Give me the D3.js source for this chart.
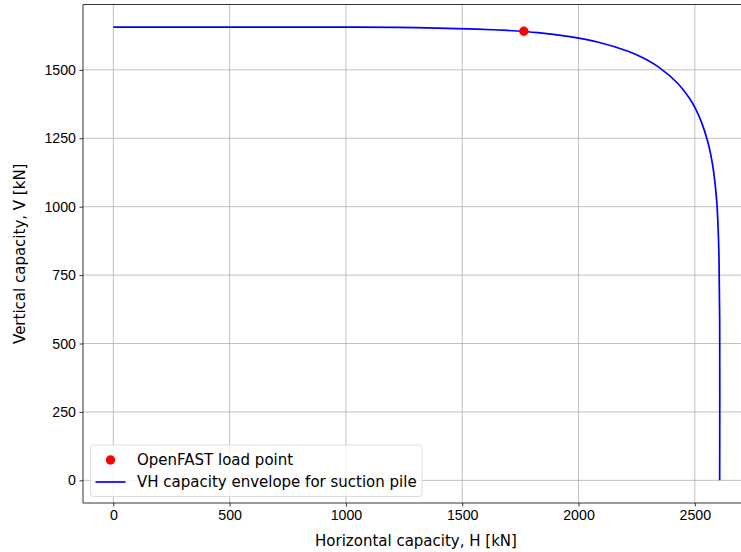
<!DOCTYPE html>
<html>
<head>
<meta charset="utf-8">
<script src="https://cdn.jsdelivr.net/npm/d3@7"></script>
<style>
  body { margin: 0; background: #fff; }
  svg { display: block; font-family: "DejaVu Sans", sans-serif; }
  .grid line { stroke: #b0b0b0; stroke-width: 0.8; }
  .axis text { font-size: 14.2px; fill: #000; }
  .axis line, .axis path { stroke: #000; stroke-width: 0.8; }
</style>
</head>
<body>
<svg id="chart"></svg>
<script>
// envelope: horizontal capacity H [kN] and vertical capacity V [kN]
var envH = [0, 782, 1043, 1303, 1563, 1694, 1825, 1955, 2086, 2216, 2281, 2346, 2425, 2477, 2503, 2529, 2555, 2568, 2581, 2594, 2600, 2604, 2607, 2607];
var envV = [1656, 1656, 1656, 1654, 1649, 1644, 1636, 1622, 1601, 1567, 1542, 1509, 1452, 1396, 1358, 1308, 1240, 1193, 1128, 1024, 928, 815, 587, 0];
// OpenFAST load point
var loadH = [1765];
var loadV = [1641];
var xTicks = [0, 500, 1000, 1500, 2000, 2500];
var yTicks = [0, 250, 500, 750, 1000, 1250, 1500];
var legendLabels = ['OpenFAST load point', 'VH capacity envelope for suction pile'];

(function () {
    var width = 741, height = 552;
    var left = 83, top = 4.5, right = 750, bottom = 503;

    var svg = d3.select('#chart').attr('width', width).attr('height', height);

    // matplotlib style 5% margins
    var hMax = d3.max(envH.concat(loadH)), hMin = d3.min(envH.concat(loadH));
    var vMax = d3.max(envV.concat(loadV)), vMin = d3.min(envV.concat(loadV));
    var hPad = (hMax - hMin) * 0.05, vPad = (vMax - vMin) * 0.05;

    var x = d3.scaleLinear().domain([hMin - hPad, hMax + hPad]).range([left, right]);
    var y = d3.scaleLinear().domain([vMin - vPad, vMax + vPad]).range([bottom, top]);

    var plot = svg.append('g');

    // grid
    var grid = plot.append('g').attr('class', 'grid');
    grid.selectAll('.gx').data(xTicks).enter().append('line')
        .attr('x1', d => x(d)).attr('x2', d => x(d)).attr('y1', top).attr('y2', bottom);
    grid.selectAll('.gy').data(yTicks).enter().append('line')
        .attr('x1', left).attr('x2', right).attr('y1', d => y(d)).attr('y2', d => y(d));

    // envelope
    var pts = envH.map((h, i) => [h, envV[i]]);
    var line = d3.line().x(d => x(d[0])).y(d => y(d[1])).curve(d3.curveCatmullRom.alpha(0.5));
    plot.append('path').datum(pts)
        .attr('d', line)
        .attr('fill', 'none').attr('stroke', '#0000ff').attr('stroke-width', 1.7);

    // load point
    plot.selectAll('.pt').data(loadH).enter().append('circle')
        .attr('cx', d => x(d)).attr('cy', (d, i) => y(loadV[i])).attr('r', 4.7)
        .attr('fill', '#ff0000');

    // axes
    var xAxis = svg.append('g').attr('class', 'axis')
        .attr('transform', 'translate(0,' + bottom + ')')
        .call(d3.axisBottom(x).tickValues(xTicks).tickSize(3.5).tickPadding(3.5).tickFormat(d3.format('d')));
    xAxis.select('.domain').remove();
    var yAxis = svg.append('g').attr('class', 'axis')
        .attr('transform', 'translate(' + left + ',0)')
        .call(d3.axisLeft(y).tickValues(yTicks).tickSize(3.5).tickPadding(3.5).tickFormat(d3.format('d')));
    yAxis.select('.domain').remove();

    // spines
    svg.append('line').attr('x1', left).attr('x2', left).attr('y1', top).attr('y2', bottom)
        .attr('stroke', '#000').attr('stroke-width', 0.8);
    svg.append('line').attr('x1', left).attr('x2', right).attr('y1', bottom).attr('y2', bottom)
        .attr('stroke', '#000').attr('stroke-width', 0.8);
    svg.append('line').attr('x1', left).attr('x2', right).attr('y1', top).attr('y2', top)
        .attr('stroke', '#000').attr('stroke-width', 0.8);

    // axis labels
    svg.append('text').attr('x', 416).attr('y', 546)
        .attr('text-anchor', 'middle').attr('font-size', '15px')
        .text('Horizontal capacity, H [kN]');
    svg.append('text').attr('transform', 'translate(25,' + ((top + bottom) / 2) + ') rotate(-90)')
        .attr('text-anchor', 'middle').attr('font-size', '15px')
        .text('Vertical capacity, V [kN]');

    // legend
    var lg = svg.append('g').attr('transform', 'translate(' + (left + 7.5) + ',445)');
    lg.append('rect').attr('x', 0).attr('y', 0).attr('width', 331.5).attr('height', 51.5)
        .attr('rx', 3).attr('fill', '#fff').attr('fill-opacity', 0.8)
        .attr('stroke', '#d6d6d6').attr('stroke-width', 0.8);
    lg.append('circle').attr('cx', 20).attr('cy', 15).attr('r', 4.7).attr('fill', '#ff0000');
    lg.append('line').attr('x1', 5).attr('x2', 35).attr('y1', 37).attr('y2', 37)
        .attr('stroke', '#0000ff').attr('stroke-width', 1.7);
    lg.selectAll('.lt').data(legendLabels).enter().append('text')
        .attr('x', 46.5).attr('y', (d, i) => 15 + i * 22).attr('dy', '0.35em')
        .attr('font-size', '15px').text(d => d);
})();
</script>
</body>
</html>
